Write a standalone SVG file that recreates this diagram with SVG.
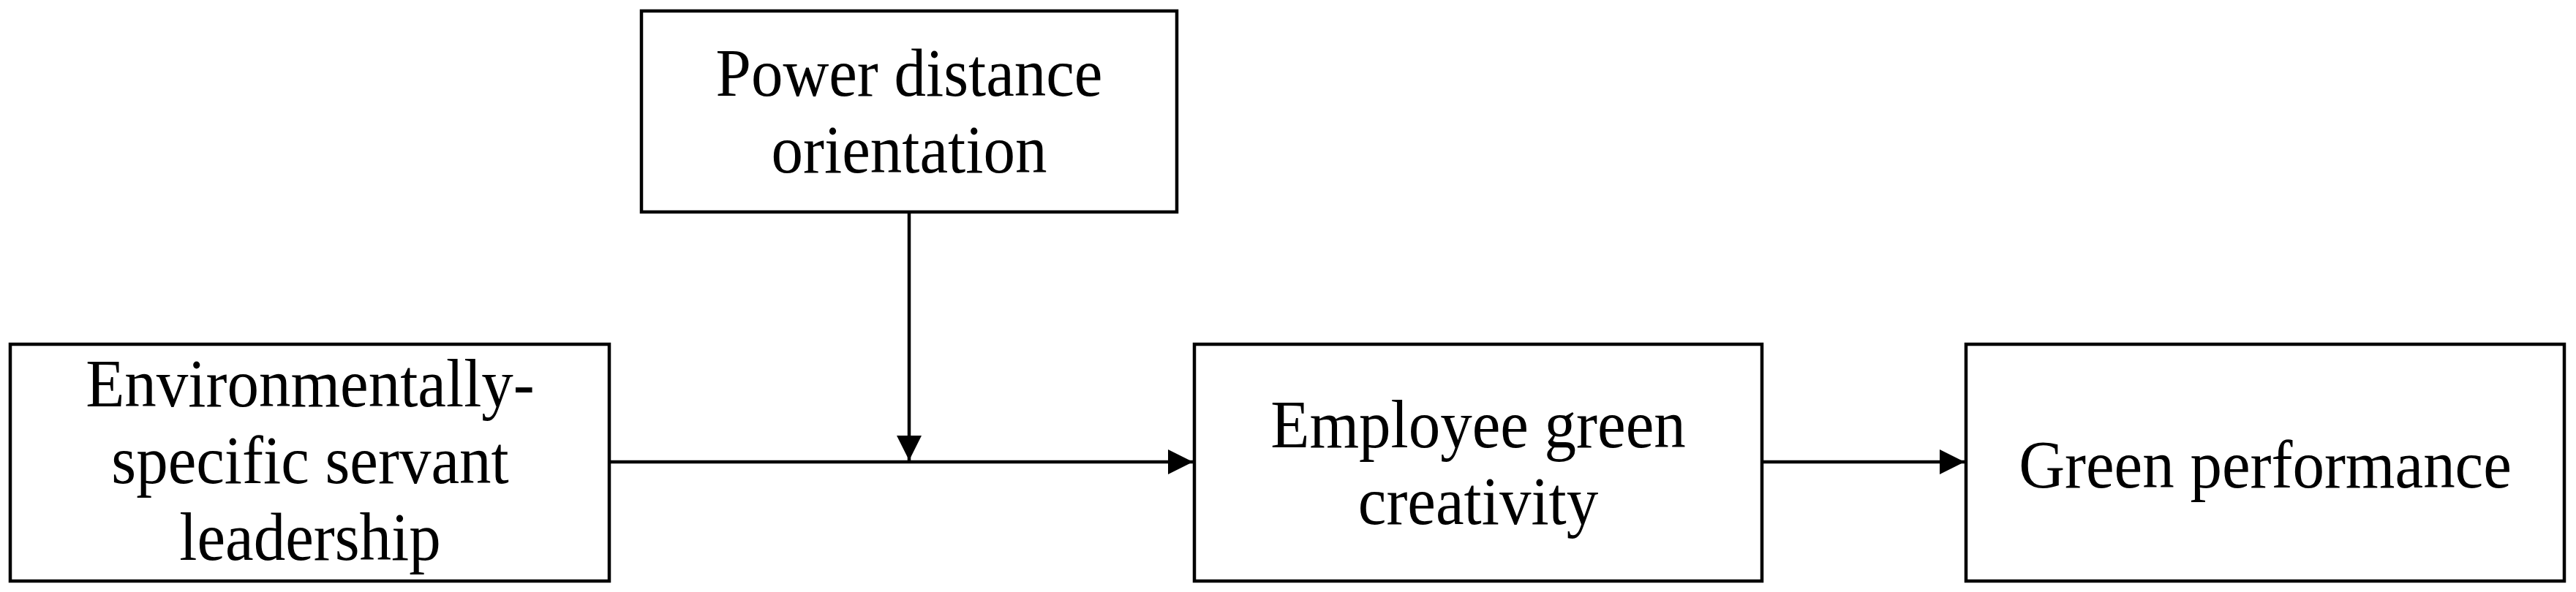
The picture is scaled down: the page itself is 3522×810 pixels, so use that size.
<svg xmlns="http://www.w3.org/2000/svg" width="3522" height="810" viewBox="0 0 3522 810">
  <style>
    .box { fill: #ffffff; stroke: #000000; stroke-width: 4.5; }
    .lbl { font-family: "Liberation Serif", "Times New Roman", serif; font-size: 87px; fill: #000000; text-anchor: middle; }
    .conn { fill: none; stroke: #000000; stroke-width: 4.5; }
  </style>
  <defs>
    <marker id="arrow" markerUnits="userSpaceOnUse" markerWidth="35" markerHeight="35" refX="34" refY="17" orient="auto">
      <path d="M0,0 L34,17 L0,34 Z" fill="#000000"/>
    </marker>
  </defs>
  <rect width="3522" height="810" fill="#ffffff"/>

  <g id="node-essl">
    <rect class="box" x="14" y="471" width="819" height="324"/>
    <text class="lbl" transform="translate(424,556) scale(1,1.06)">Environmentally-</text>
    <text class="lbl" transform="translate(424,661) scale(1,1.06)">specific servant</text>
    <text class="lbl" transform="translate(424,766) scale(1,1.06)">leadership</text>
  </g>

  <g id="node-pdo">
    <rect class="box" x="877" y="15" width="732" height="275"/>
    <text class="lbl" transform="translate(1243,131) scale(1,1.06)">Power distance</text>
    <text class="lbl" transform="translate(1243,236) scale(1,1.06)">orientation</text>
  </g>

  <g id="node-egc">
    <rect class="box" x="1633" y="471" width="776" height="324"/>
    <text class="lbl" transform="translate(2021,612) scale(1,1.06)">Employee green</text>
    <text class="lbl" transform="translate(2021,717) scale(1,1.06)">creativity</text>
  </g>

  <g id="node-gp">
    <rect class="box" x="2688" y="471" width="818" height="324"/>
    <text class="lbl" transform="translate(3097,667) scale(1,1.06)">Green performance</text>
  </g>

  <g id="connectors">
    <path class="conn" d="M833,632 H1631" marker-end="url(#arrow)"/>
    <path class="conn" d="M1243,290 V630" marker-end="url(#arrow)"/>
    <path class="conn" d="M2409,632 H2686" marker-end="url(#arrow)"/>
  </g>
</svg>
